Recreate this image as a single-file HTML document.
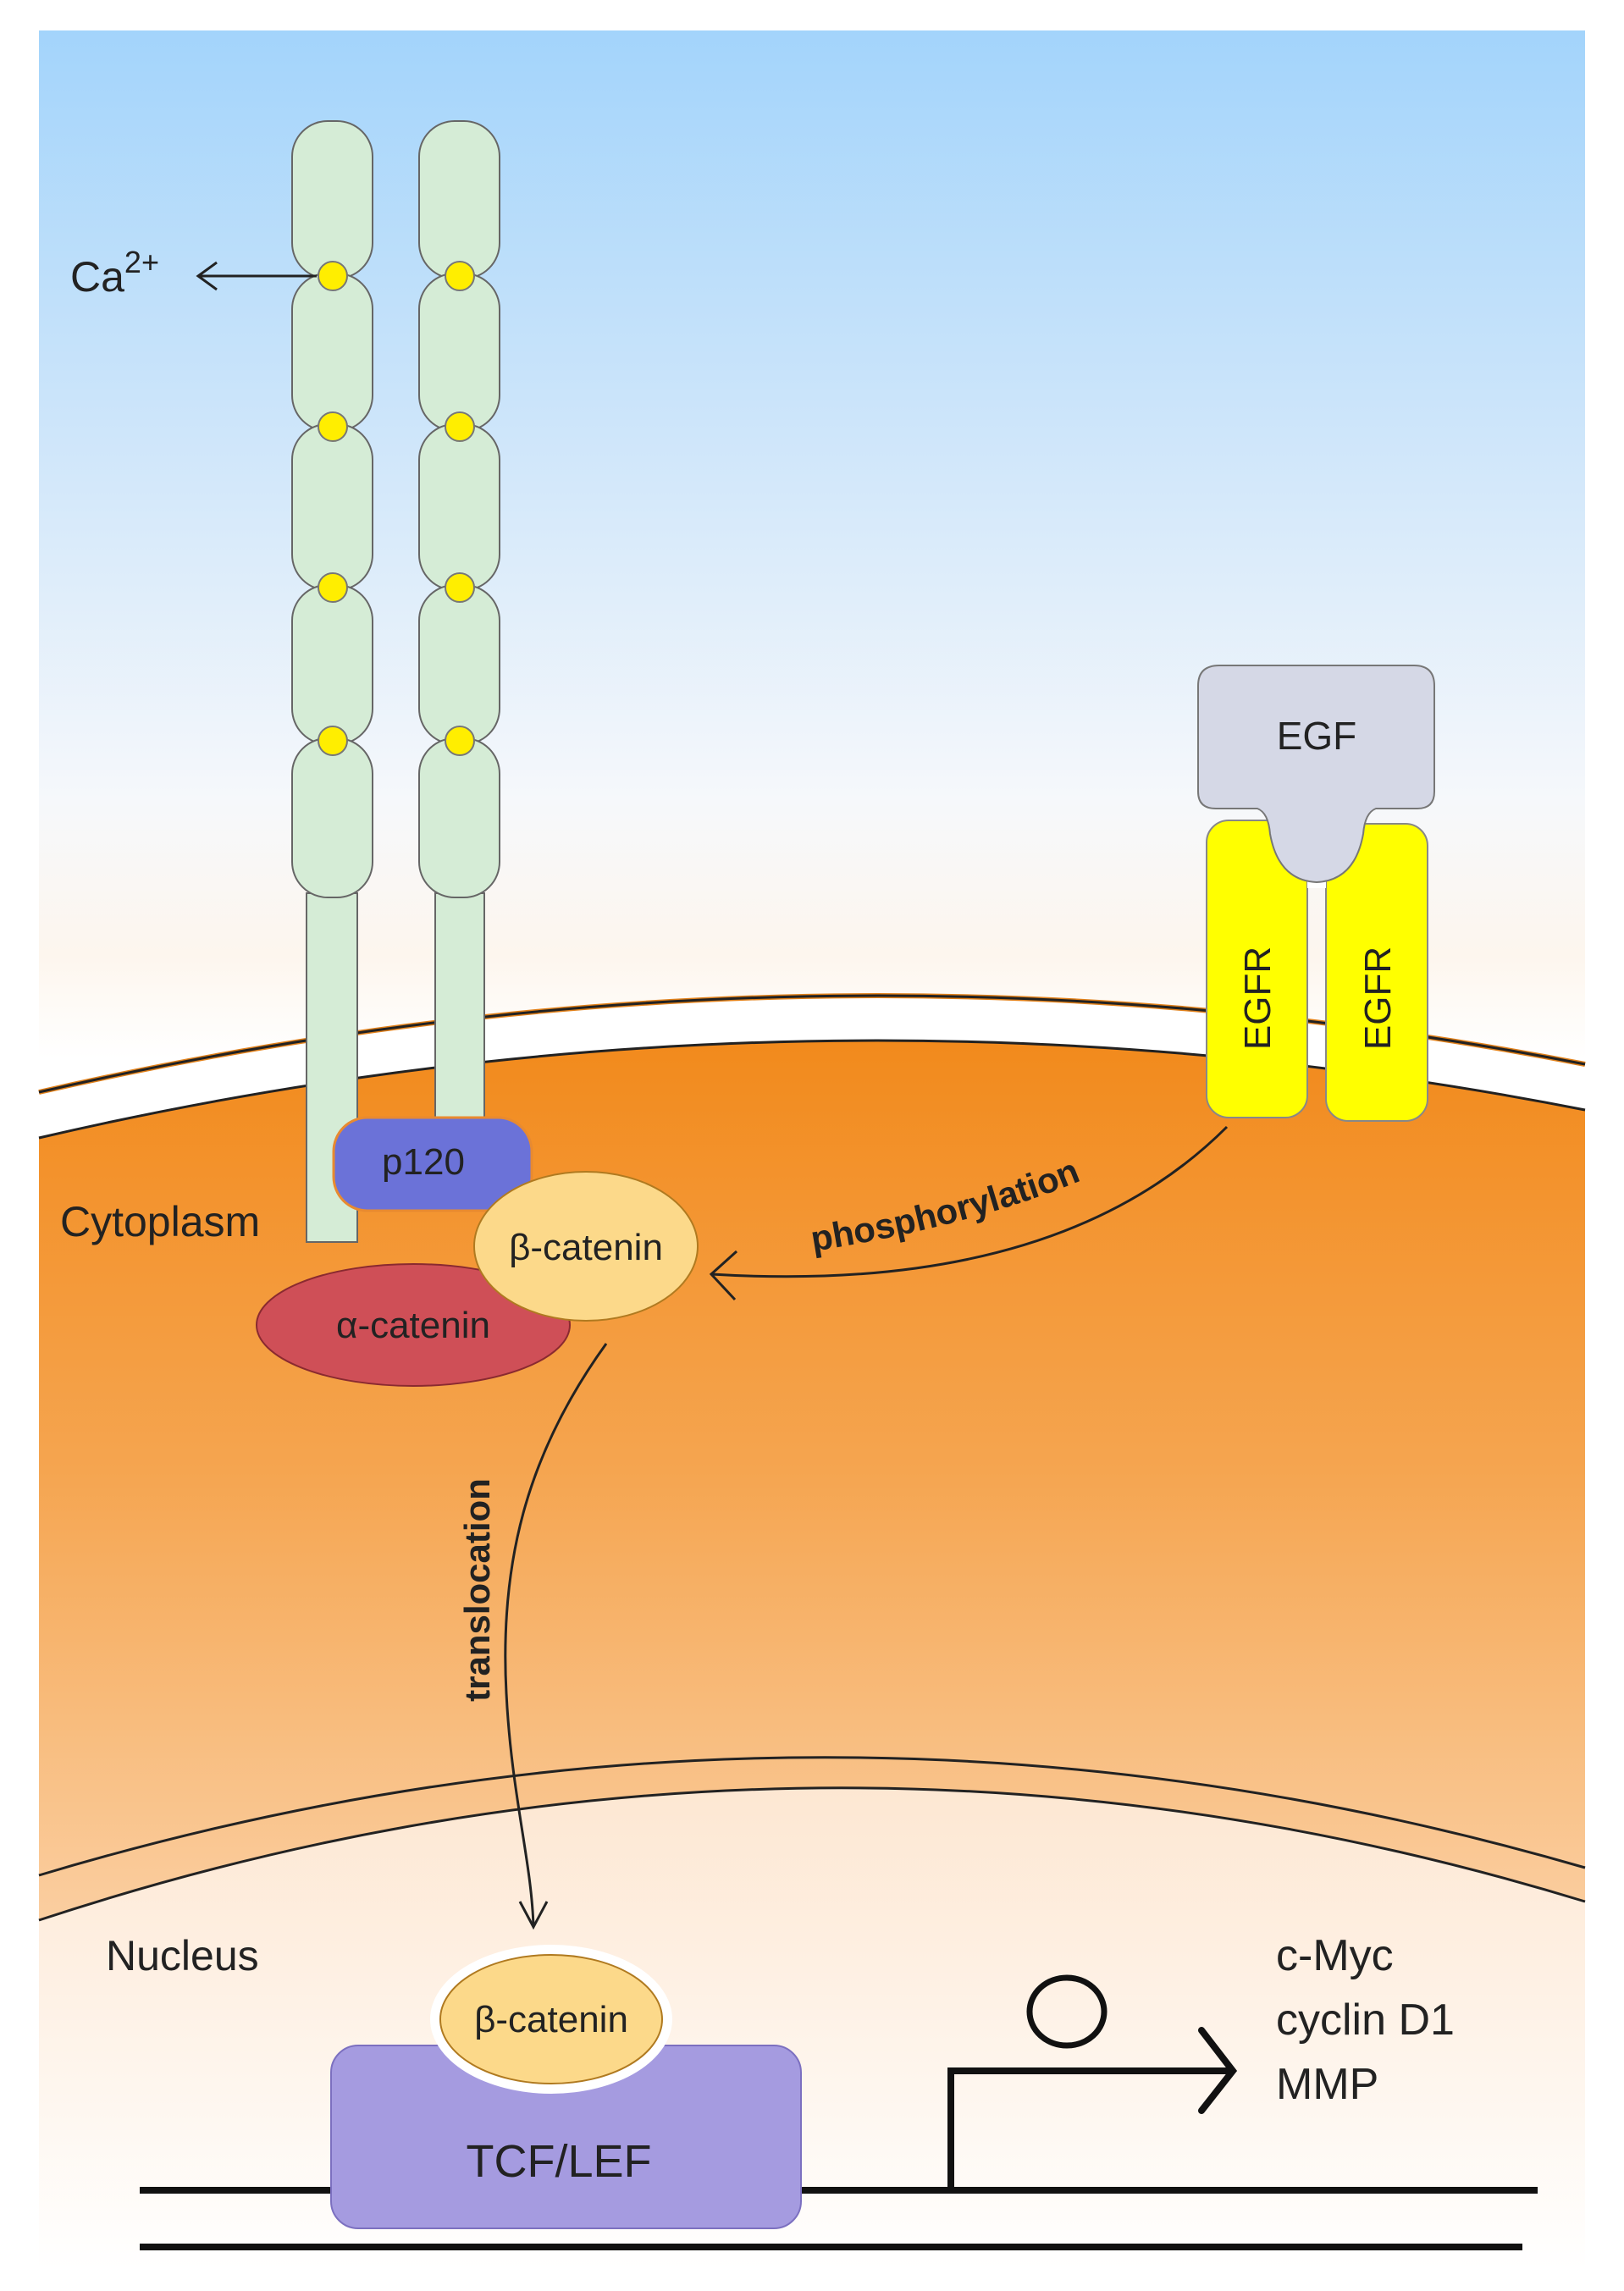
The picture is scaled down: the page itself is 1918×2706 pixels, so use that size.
<!DOCTYPE html>
<html><head><meta charset="utf-8"><style>html,body{margin:0;padding:0;background:#fff}svg{display:block}text{font-family:"Liberation Sans",Arial,sans-serif}</style></head>
<body>
<svg width="1918" height="2706" viewBox="0 0 1918 2706" xmlns="http://www.w3.org/2000/svg">
<defs>
<linearGradient id="sky" gradientUnits="userSpaceOnUse" x1="0" y1="36" x2="0" y2="1250">
<stop offset="0" stop-color="#a3d4fb"/><stop offset="0.4" stop-color="#cfe6fa"/><stop offset="0.75" stop-color="#f6f8fb"/><stop offset="0.9" stop-color="#fdf6ee"/><stop offset="1" stop-color="#fff"/></linearGradient>
<linearGradient id="cyto" x1="0" y1="0" x2="0" y2="1">
<stop offset="0" stop-color="#f28a1c"/><stop offset="0.35" stop-color="#f5a550"/><stop offset="0.75" stop-color="#fbd2a8"/><stop offset="1" stop-color="#fde6cf"/></linearGradient>
<linearGradient id="nuc" x1="0" y1="0" x2="0" y2="1">
<stop offset="0" stop-color="#fde7d2"/><stop offset="1" stop-color="#ffffff"/></linearGradient>
</defs>
<rect x="46" y="36" width="1826" height="2645" fill="url(#sky)"/>
<path d="M46,1344 Q959,1132 1872,1311 L1872,2681 L46,2681 Z" fill="url(#cyto)"/>
<path d="M46,1290 Q959,1080 1872,1257 L1872,1311 Q959,1132 46,1344 Z" fill="#fff"/>
<path d="M46,1290 Q959,1080 1872,1257" fill="none" stroke="#e0801a" stroke-width="6"/>
<path d="M46,1290 Q959,1080 1872,1257" fill="none" stroke="#222" stroke-width="3"/>
<path d="M46,1344 Q959,1132 1872,1311" fill="none" stroke="#222" stroke-width="3"/>
<path d="M46,2268 Q959,1967 1872,2246 L1872,2681 L46,2681 Z" fill="url(#nuc)"/>
<path d="M46,2215 Q959,1941 1872,2206" fill="none" stroke="#222" stroke-width="3"/>
<path d="M46,2268 Q959,1967 1872,2246" fill="none" stroke="#222" stroke-width="3"/>

<g fill="#d5ecd6" stroke="#666" stroke-width="2">
<rect x="362" y="1055" width="60" height="412"/>
<rect x="514" y="1055" width="58" height="300"/>
<g id="cad">
<rect x="345" y="143" width="95" height="186" rx="42"/>
<rect x="345" y="323" width="95" height="186" rx="42"/>
<rect x="345" y="501" width="95" height="196" rx="42"/>
<rect x="345" y="691" width="95" height="188" rx="42"/>
<rect x="345" y="872" width="95" height="188" rx="42"/>
</g>
<use href="#cad" x="150"/>
</g>
<g fill="#ffee00" stroke="#777" stroke-width="2">
<circle cx="393" cy="326" r="17"/><circle cx="393" cy="504" r="17"/><circle cx="393" cy="694" r="17"/><circle cx="393" cy="875" r="17"/>
<circle cx="543" cy="326" r="17"/><circle cx="543" cy="504" r="17"/><circle cx="543" cy="694" r="17"/><circle cx="543" cy="875" r="17"/>
</g>
<text x="83" y="344" font-size="50" fill="#222">Ca<tspan font-size="36" dy="-22">2+</tspan></text>
<path d="M374,326 H234 M256,310 L234,326 L256,342" fill="none" stroke="#222" stroke-width="3"/>

<rect x="1425" y="969" width="119" height="351" rx="26" fill="#ffff00" stroke="#888" stroke-width="2"/>
<rect x="1566" y="973" width="120" height="351" rx="26" fill="#ffff00" stroke="#888" stroke-width="2"/>
<rect x="1544" y="969" width="22" height="80" fill="#fff"/>
<path d="M1415,810 Q1415,786 1440,786 H1670 Q1694,786 1694,810 V935 Q1694,955 1674,955 H1625 Q1612,960 1610,985 Q1600,1040 1555,1042 Q1510,1040 1500,985 Q1498,960 1485,955 H1436 Q1415,955 1415,935 Z" fill="#d5d8e6" stroke="#777" stroke-width="2" />
<text x="1555" y="885" font-size="46" text-anchor="middle" fill="#222">EGF</text>
<text transform="translate(1500,1179) rotate(-90)" font-size="44" text-anchor="middle" fill="#222">EGFR</text>
<text transform="translate(1642,1179) rotate(-90)" font-size="44" text-anchor="middle" fill="#222">EGFR</text>

<ellipse cx="488" cy="1565" rx="185" ry="72" fill="#cf4f57" stroke="#8a2a30" stroke-width="2"/>
<text x="488" y="1580" font-size="44" text-anchor="middle" fill="#222">α-catenin</text>
<rect x="394" y="1320" width="234" height="110" rx="40" fill="#6b72d8" stroke="#e88a30" stroke-width="3"/>
<text x="500" y="1387" font-size="44" text-anchor="middle" fill="#222">p120</text>
<ellipse cx="692" cy="1472" rx="132" ry="88" fill="#fcd98a" stroke="#b07a20" stroke-width="2"/>
<text x="692" y="1488" font-size="44" text-anchor="middle" fill="#222">β-catenin</text>
<text x="71" y="1460" font-size="50" fill="#222">Cytoplasm</text>

<path d="M1449,1331 Q1250,1530 840,1505" fill="none" stroke="#222" stroke-width="3"/>
<path d="M870,1478 L840,1505 L868,1535" fill="none" stroke="#222" stroke-width="3"/>
<path id="ph" d="M960,1478 Q1200,1440 1350,1360" fill="none"/>
<text font-size="42" font-weight="bold" fill="#222"><textPath href="#ph">phosphorylation</textPath></text>

<path d="M716,1587 C620,1720 590,1850 598,2000 C604,2120 628,2200 630,2276" fill="none" stroke="#222" stroke-width="3"/>
<path d="M614,2246 L630,2276 L646,2246" fill="none" stroke="#222" stroke-width="3"/>
<text transform="translate(578,1878) rotate(-90)" font-size="42" font-weight="bold" text-anchor="middle" fill="#222">translocation</text>

<text x="125" y="2327" font-size="50" fill="#222">Nucleus</text>
<line x1="165" y1="2587" x2="1816" y2="2587" stroke="#111" stroke-width="8"/>
<line x1="165" y1="2654" x2="1798" y2="2654" stroke="#111" stroke-width="8"/>
<rect x="391" y="2416" width="555" height="216" rx="32" fill="#a59be0" stroke="#7c70c0" stroke-width="2"/>
<ellipse cx="651" cy="2385" rx="143" ry="88" fill="#fff"/>
<ellipse cx="651" cy="2385" rx="131" ry="76" fill="#fcd98a" stroke="#b07a20" stroke-width="2"/>
<text x="651" y="2400" font-size="44" text-anchor="middle" fill="#222">β-catenin</text>
<text x="660" y="2571" font-size="54" text-anchor="middle" fill="#222">TCF/LEF</text>
<path d="M1123,2587 V2446 H1452" fill="none" stroke="#111" stroke-width="8"/>
<path d="M1419,2398 L1456,2446 L1419,2493" fill="none" stroke="#111" stroke-width="8" stroke-linecap="round"/>
<ellipse cx="1260" cy="2376" rx="44" ry="40" fill="none" stroke="#111" stroke-width="7"/>
<text x="1507" y="2327" font-size="52" fill="#222">c-Myc</text>
<text x="1507" y="2403" font-size="52" fill="#222">cyclin D1</text>
<text x="1507" y="2479" font-size="52" fill="#222">MMP</text>
</svg>
</body></html>
